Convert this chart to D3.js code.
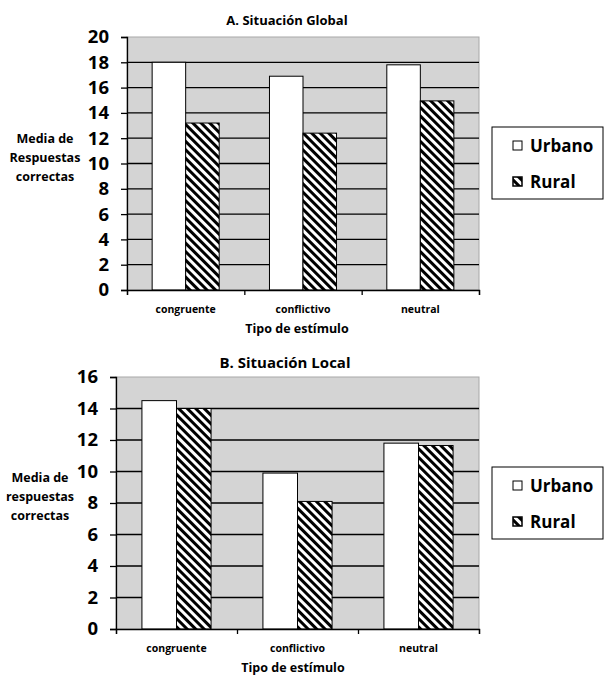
<!DOCTYPE html>
<html>
<head>
<meta charset="utf-8">
<script src="https://cdn.jsdelivr.net/npm/d3@7"></script>
<style>
  body { margin: 0; background: #fff; }
  svg { display: block; font-family: "Open Sans", "Noto Sans", sans-serif; font-weight: bold; }
</style>
</head>
<body>
<div id="chart"></div>
<script>
// data
var categories = ["congruente", "conflictivo", "neutral"];
var seriesNames = ["Urbano", "Rural"];

var globalUrbano = [18.0, 16.9, 17.8];
var globalRural  = [13.2, 12.4, 14.95];
var globalTicks  = [0, 2, 4, 6, 8, 10, 12, 14, 16, 18, 20];

var localUrbano = [14.5, 9.9, 11.8];
var localRural  = [14.0, 8.1, 11.65];
var localTicks  = [0, 2, 4, 6, 8, 10, 12, 14, 16];

var width = 604, height = 675;

var svg = d3.select("#chart").append("svg")
    .attr("width", width)
    .attr("height", height);

// diagonal stripe pattern for Rural
var defs = svg.append("defs");
defs.append("pattern")
    .attr("id", "stripes")
    .attr("patternUnits", "userSpaceOnUse")
    .attr("width", 6)
    .attr("height", 6)
    .attr("patternTransform", "rotate(-45)")
  .call(function(p) {
      p.append("rect").attr("width", 6).attr("height", 6).attr("fill", "#fff");
      p.append("rect").attr("width", 3).attr("height", 6).attr("fill", "#000");
  });

function drawPanel(opt) {
    var g = svg.append("g");

    var y = d3.scaleLinear()
        .domain([0, opt.ticks[opt.ticks.length - 1]])
        .range([opt.bottom, opt.top]);

    var x0 = d3.scaleBand()
        .domain(categories)
        .range([opt.left, opt.right])
        .padding(0);

    var x1 = d3.scaleBand()
        .domain(seriesNames)
        .range([0, x0.bandwidth()])
        .paddingInner(0)
        .paddingOuter(0.75);

    // plot background
    g.append("rect")
        .attr("x", opt.left)
        .attr("y", opt.top)
        .attr("width", opt.right - opt.left)
        .attr("height", opt.bottom - opt.top)
        .attr("fill", "#d4d4d4")
        .attr("stroke", "#a8a8a8")
        .attr("stroke-width", 1);

    // gridlines
    g.selectAll(".grid")
        .data(opt.ticks.slice(1, -1))
        .enter().append("line")
        .attr("x1", opt.left)
        .attr("x2", opt.right)
        .attr("y1", function(d) { return y(d); })
        .attr("y2", function(d) { return y(d); })
        .attr("stroke", "#000")
        .attr("stroke-width", 1.3);

    // bars
    var rows = categories.map(function(c, i) {
        return [
            { cat: c, s: "Urbano", v: opt.urbano[i] },
            { cat: c, s: "Rural", v: opt.rural[i] }
        ];
    });

    g.selectAll(".grp")
        .data(rows)
        .enter().append("g")
        .attr("transform", function(d) { return "translate(" + x0(d[0].cat) + ",0)"; })
        .selectAll("rect")
        .data(function(d) { return d; })
        .enter().append("rect")
        .attr("x", function(d) { return x1(d.s); })
        .attr("y", function(d) { return y(d.v); })
        .attr("width", x1.bandwidth())
        .attr("height", function(d) { return opt.bottom - y(d.v); })
        .attr("fill", function(d) { return d.s == "Urbano" ? "#fff" : "url(#stripes)"; })
        .attr("stroke", "#000")
        .attr("stroke-width", 1);

    // y axis
    var yAxis = g.append("g")
        .attr("transform", "translate(" + opt.left + ",0)")
        .call(d3.axisLeft(y).tickValues(opt.ticks).tickSize(6).tickPadding(12).tickFormat(d3.format("d")));
    yAxis.select(".domain").attr("stroke", "#000").attr("stroke-width", 1.3);
    yAxis.selectAll(".tick line").attr("stroke", "#000").attr("stroke-width", 1.3);
    yAxis.selectAll("text")
        .attr("font-family", "Open Sans")
        .attr("font-weight", "bold")
        .attr("font-size", 18.5)
        .attr("fill", "#000");

    // x axis: ticks on category boundaries
    var xb = d3.scaleLinear().domain([0, categories.length]).range([opt.left, opt.right]);
    var xAxis = g.append("g")
        .attr("transform", "translate(0," + opt.bottom + ")")
        .call(d3.axisBottom(xb).tickValues(d3.range(categories.length + 1)).tickSize(5).tickFormat(""));
    xAxis.select(".domain").attr("stroke", "#000").attr("stroke-width", 1.3);
    xAxis.selectAll(".tick line").attr("stroke", "#000").attr("stroke-width", 1.3);

    g.selectAll(".catlab")
        .data(categories)
        .enter().append("text")
        .attr("x", function(d) { return x0(d) + x0.bandwidth() / 2; })
        .attr("y", opt.bottom + 23)
        .attr("text-anchor", "middle")
        .attr("font-size", 10.5)
        .text(function(d) { return d; });

    // titles
    g.append("text")
        .attr("x", opt.titleX)
        .attr("y", opt.titleY)
        .attr("text-anchor", "middle")
        .attr("font-size", opt.titleSize)
        .text(opt.title);

    g.append("text")
        .attr("x", opt.xTitleX)
        .attr("y", opt.bottom + 43)
        .attr("text-anchor", "middle")
        .attr("font-size", 12.5)
        .text("Tipo de estímulo");

    g.append("text")
        .attr("x", opt.yTitleX)
        .attr("y", opt.yTitleY)
        .attr("text-anchor", "middle")
        .attr("font-size", 12.5)
        .selectAll("tspan")
        .data(opt.yTitle)
        .enter().append("tspan")
        .attr("x", opt.yTitleX)
        .attr("dy", function(d, i) { return i == 0 ? 0 : 19; })
        .text(function(d) { return d; });

    // legend
    var lg = g.append("g").attr("transform", "translate(492," + opt.legendY + ")");
    lg.append("rect")
        .attr("width", 111)
        .attr("height", 72)
        .attr("fill", "#fff")
        .attr("stroke", "#000")
        .attr("stroke-width", 1);
    seriesNames.forEach(function(s, i) {
        lg.append("rect")
            .attr("x", 21)
            .attr("y", 14 + i * 36)
            .attr("width", 9)
            .attr("height", 9)
            .attr("fill", s == "Urbano" ? "#fff" : "url(#stripes)")
            .attr("stroke", "#000")
            .attr("stroke-width", s == "Urbano" ? 1 : 1.5);
        lg.append("text")
            .attr("x", 38)
            .attr("y", 25 + i * 36)
            .attr("font-size", 17)
            .text(s);
    });
}

drawPanel({
    left: 127, right: 479, top: 37, bottom: 290,
    ticks: globalTicks, urbano: globalUrbano, rural: globalRural,
    title: "A. Situación Global", titleX: 287, titleY: 25, titleSize: 13,
    xTitleX: 297,
    yTitle: ["Media de", "Respuestas", "correctas"], yTitleX: 45, yTitleY: 143,
    legendY: 127
});

drawPanel({
    left: 116, right: 479, top: 377, bottom: 629,
    ticks: localTicks, urbano: localUrbano, rural: localRural,
    title: "B. Situación Local", titleX: 285, titleY: 368, titleSize: 15,
    xTitleX: 293,
    yTitle: ["Media de", "respuestas", "correctas"], yTitleX: 40, yTitleY: 482,
    legendY: 467
});
</script>
</body>
</html>
